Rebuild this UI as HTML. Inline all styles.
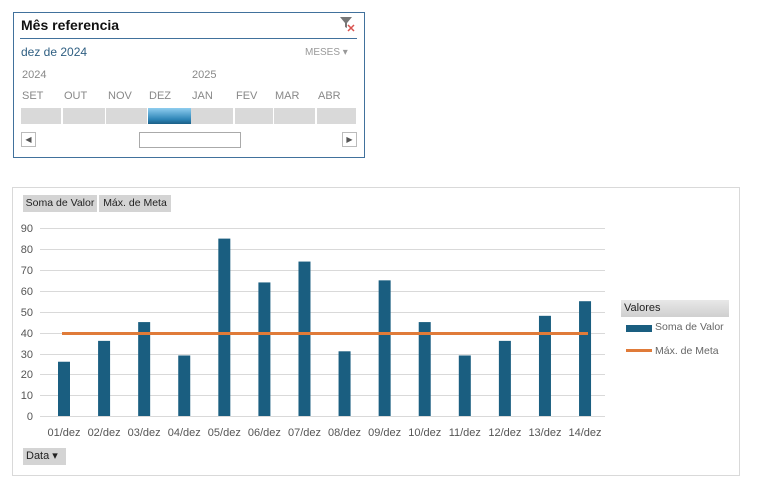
<!DOCTYPE html>
<html><head><meta charset="utf-8"><style>
body{margin:0;width:757px;height:499px;background:#fff;font-family:"Liberation Sans",sans-serif;position:relative;overflow:hidden}
.a{position:absolute}
</style></head><body>
<div class="a" style="left:13px;top:12px;width:350px;height:144px;border:1px solid #41719c;"></div>
<div class="a" style="left:21px;top:17px;font-size:14px;font-weight:bold;color:#111">Mês referencia</div>
<div class="a" style="left:20px;top:38px;width:337px;height:1px;background:#41719c"></div>
<svg class="a" style="left:339px;top:16px" width="18" height="18"><path d="M1 1H13L8 7V12L6 11V7Z" fill="#777"/><path d="M9 9l6 6M15 9l-6 6" stroke="#d9534f" stroke-width="1.5"/></svg>
<div class="a" style="left:21px;top:45px;font-size:12px;color:#2f5f82">dez de 2024</div>
<div class="a" style="left:305px;top:47px;font-size:10px;color:#999">MESES ▾</div>
<div class="a" style="left:22px;top:69px;font-size:11px;color:#888">2024</div>
<div class="a" style="left:192px;top:69px;font-size:11px;color:#888">2025</div>
<div class="a" style="left:22px;top:90px;font-size:11px;color:#888;width:340px">
<span class="a" style="left:0">SET</span><span class="a" style="left:42px">OUT</span><span class="a" style="left:86px">NOV</span><span class="a" style="left:127px">DEZ</span><span class="a" style="left:170px">JAN</span><span class="a" style="left:214px">FEV</span><span class="a" style="left:253px">MAR</span><span class="a" style="left:296px">ABR</span></div>
<div class="a" style="left:21px;top:108px;width:40px;height:16px;background:#d9d9d9"></div>
<div class="a" style="left:63px;top:108px;width:42px;height:16px;background:#d9d9d9"></div>
<div class="a" style="left:106px;top:108px;width:41px;height:16px;background:#d9d9d9"></div>
<div class="a" style="left:148px;top:108px;width:43px;height:16px;background:linear-gradient(#8fcdef,#2f86b8 70%,#1b5f86)"></div>
<div class="a" style="left:191px;top:108px;width:42px;height:16px;background:#d9d9d9"></div>
<div class="a" style="left:235px;top:108px;width:38px;height:16px;background:#d9d9d9"></div>
<div class="a" style="left:274px;top:108px;width:41px;height:16px;background:#d9d9d9"></div>
<div class="a" style="left:317px;top:108px;width:39px;height:16px;background:#d9d9d9"></div>
<div class="a" style="left:21px;top:132px;width:13px;height:13px;border:1px solid #bbb;font-size:8px;color:#555;text-align:center;line-height:13px">◀</div>
<div class="a" style="left:139px;top:132px;width:100px;height:14px;border:1px solid #aaa"></div>
<div class="a" style="left:342px;top:132px;width:13px;height:13px;border:1px solid #bbb;font-size:8px;color:#555;text-align:center;line-height:13px">▶</div>

<div class="a" style="left:12px;top:187px;width:726px;height:287px;border:1px solid #d9d9d9"></div>
<div class="a" style="left:23px;top:195px;width:74px;height:17px;background:#d4d4d4;font-size:10.5px;line-height:17px;text-align:center;color:#222">Soma de Valor</div>
<div class="a" style="left:99px;top:195px;width:72px;height:17px;background:#d4d4d4;font-size:10.5px;line-height:17px;text-align:center;color:#222">Máx. de Meta</div>
<div class="a" style="left:23px;top:448px;width:40px;height:17px;background:#d4d4d4;font-size:11px;line-height:17px;padding-left:3px;color:#222">Data ▾</div>
<div class="a" style="left:621px;top:300px;width:105px;height:17px;background:linear-gradient(#e8e8e8,#cfcfcf);font-size:11px;line-height:17px;padding-left:3px;color:#222">Valores</div>
<div class="a" style="left:626px;top:325px;width:26px;height:7px;background:#1a5e80"></div>
<div class="a" style="left:655px;top:321px;font-size:10.5px;color:#666">Soma de Valor</div>
<div class="a" style="left:626px;top:349px;width:26px;height:3px;background:#e07b39"></div>
<div class="a" style="left:655px;top:345px;font-size:10.5px;color:#666">Máx. de Meta</div>
<svg class="a" style="left:0;top:0" width="757" height="499" font-family="Liberation Sans" font-size="11" fill="#555">
<g stroke="#d9d9d9" stroke-width="1">
<line x1="40" x2="605" y1="228.5" y2="228.5"/><line x1="40" x2="605" y1="249.5" y2="249.5"/><line x1="40" x2="605" y1="270.5" y2="270.5"/><line x1="40" x2="605" y1="291.5" y2="291.5"/><line x1="40" x2="605" y1="312.5" y2="312.5"/><line x1="40" x2="605" y1="333.5" y2="333.5"/><line x1="40" x2="605" y1="354.5" y2="354.5"/><line x1="40" x2="605" y1="374.5" y2="374.5"/><line x1="40" x2="605" y1="395.5" y2="395.5"/><line x1="40" x2="605" y1="416.5" y2="416.5"/></g>
<g text-anchor="end"><text x="33" y="232">90</text><text x="33" y="253">80</text><text x="33" y="274">70</text><text x="33" y="295">60</text><text x="33" y="316">50</text><text x="33" y="337">40</text><text x="33" y="358">30</text><text x="33" y="378">20</text><text x="33" y="399">10</text><text x="33" y="420">0</text></g>
<g fill="#1a5e80" id="b"></g>
<g text-anchor="middle" id="l"></g>
<line x1="62" x2="588" y1="333.5" y2="333.5" stroke="#e07b39" stroke-width="3"/>
</svg>
<script>
var v=[26,36,45,29,85,64,74,31,65,45,29,36,48,55],b=document.getElementById('b'),l=document.getElementById('l'),ns='http://www.w3.org/2000/svg';
v.forEach(function(d,i){var c=64+i*40.08,h=d*2.087;var r=document.createElementNS(ns,'rect');r.setAttribute('x',c-6);r.setAttribute('y',416-h);r.setAttribute('width',12);r.setAttribute('height',h);b.appendChild(r);
var t=document.createElementNS(ns,'text');t.setAttribute('x',c);t.setAttribute('y',436);t.textContent=(i<9?'0':'')+(i+1)+'/dez';l.appendChild(t);});
</script>
</body></html>
